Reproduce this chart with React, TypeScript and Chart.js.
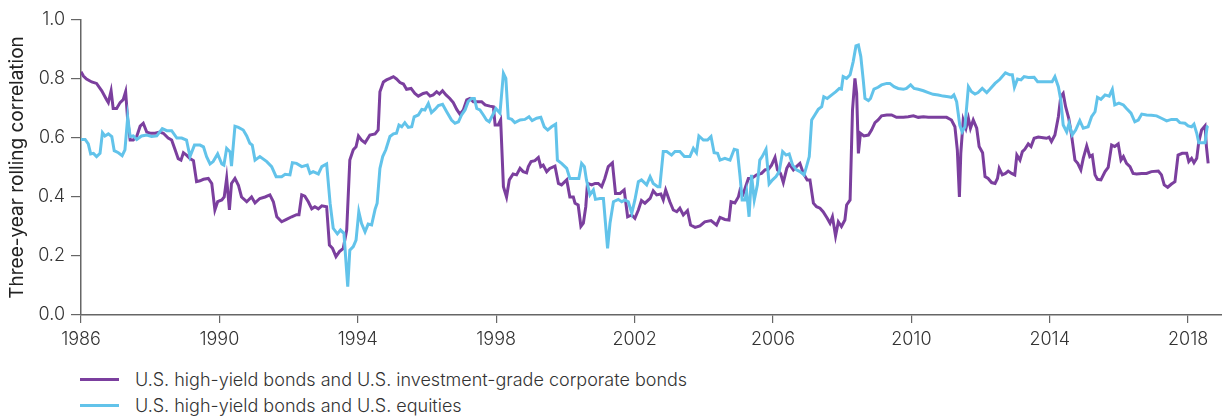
import React, { useEffect, useRef } from "react";
import { Chart, registerables } from "chart.js";

Chart.register(...registerables);

// U.S. high-yield bonds vs U.S. investment-grade corporate bonds (purple)
const igYears = [
  1986.0, 1986.07, 1986.16, 1986.31, 1986.45, 1986.6, 1986.74, 1986.79, 1986.87, 1986.93,
  1987.03, 1987.13, 1987.22, 1987.29, 1987.35, 1987.42, 1987.51, 1987.61, 1987.71, 1987.8,
  1987.9, 1988.0, 1988.14, 1988.28, 1988.38, 1988.52, 1988.62, 1988.72, 1988.81, 1988.89,
  1988.96, 1989.05, 1989.15, 1989.25, 1989.34, 1989.44, 1989.54, 1989.68, 1989.78, 1989.87,
  1989.95, 1990.07, 1990.14, 1990.21, 1990.29, 1990.35, 1990.45, 1990.55, 1990.64, 1990.79,
  1990.93, 1991.03, 1991.17, 1991.32, 1991.46, 1991.56, 1991.66, 1991.8, 1991.94, 1992.09,
  1992.23, 1992.3, 1992.38, 1992.47, 1992.57, 1992.67, 1992.76, 1992.86, 1992.96, 1993.1,
  1993.18, 1993.27, 1993.37, 1993.47, 1993.58, 1993.68, 1993.77, 1993.87, 1993.95, 1994.02,
  1994.11, 1994.21, 1994.35, 1994.5, 1994.59, 1994.64, 1994.74, 1994.83, 1994.93, 1995.03,
  1995.12, 1995.22, 1995.32, 1995.41, 1995.54, 1995.65, 1995.75, 1995.89, 1995.99, 1996.09,
  1996.18, 1996.28, 1996.36, 1996.45, 1996.55, 1996.66, 1996.76, 1996.86, 1996.95, 1997.05,
  1997.15, 1997.24, 1997.34, 1997.44, 1997.58, 1997.68, 1997.82, 1997.92, 1997.97, 1998.06,
  1998.13, 1998.21, 1998.3, 1998.38, 1998.49, 1998.59, 1998.69, 1998.78, 1998.88, 1998.93,
  1999.01, 1999.12, 1999.22, 1999.29, 1999.36, 1999.46, 1999.55, 1999.7, 1999.8, 1999.89,
  2000.04, 2000.13, 2000.23, 2000.28, 2000.37, 2000.45, 2000.52, 2000.59, 2000.64, 2000.76,
  2000.86, 2000.95, 2001.05, 2001.14, 2001.24, 2001.36, 2001.45, 2001.58, 2001.7, 2001.8,
  2001.92, 2002.01, 2002.11, 2002.2, 2002.3, 2002.45, 2002.54, 2002.64, 2002.76, 2002.83,
  2002.9, 2003.02, 2003.12, 2003.22, 2003.31, 2003.41, 2003.53, 2003.62, 2003.75, 2003.89,
  2004.03, 2004.21, 2004.37, 2004.47, 2004.61, 2004.73, 2004.79, 2004.9, 2005.0, 2005.05,
  2005.14, 2005.21, 2005.29, 2005.38, 2005.53, 2005.67, 2005.77, 2005.87, 2005.96, 2006.06,
  2006.13, 2006.22, 2006.3, 2006.4, 2006.47, 2006.59, 2006.68, 2006.78, 2006.88, 2006.99,
  2007.07, 2007.17, 2007.26, 2007.36, 2007.45, 2007.57, 2007.65, 2007.72, 2007.81, 2007.89,
  2007.98, 2008.08, 2008.13, 2008.23, 2008.3, 2008.37, 2008.42, 2008.47, 2008.53, 2008.63,
  2008.76, 2008.85, 2008.95, 2009.04, 2009.14, 2009.29, 2009.43, 2009.57, 2009.77, 2009.91,
  2010.06, 2010.2, 2010.35, 2010.49, 2010.63, 2010.83, 2011.02, 2011.16, 2011.26, 2011.33,
  2011.39, 2011.43, 2011.5, 2011.58, 2011.65, 2011.71, 2011.79, 2011.89, 2011.96, 2012.06,
  2012.13, 2012.22, 2012.32, 2012.42, 2012.49, 2012.54, 2012.63, 2012.72, 2012.8, 2012.9,
  2012.99, 2013.05, 2013.14, 2013.21, 2013.28, 2013.38, 2013.46, 2013.55, 2013.67, 2013.81,
  2013.91, 2013.98, 2014.05, 2014.15, 2014.25, 2014.32, 2014.39, 2014.46, 2014.55, 2014.63,
  2014.73, 2014.81, 2014.9, 2014.97, 2015.07, 2015.16, 2015.23, 2015.31, 2015.38, 2015.48,
  2015.6, 2015.69, 2015.79, 2015.88, 2015.98, 2016.06, 2016.13, 2016.22, 2016.32, 2016.41,
  2016.51, 2016.66, 2016.8, 2016.94, 2017.14, 2017.23, 2017.31, 2017.41, 2017.52, 2017.62,
  2017.71, 2017.83, 2017.96, 2018.02, 2018.1, 2018.17, 2018.25, 2018.31, 2018.39, 2018.49,
  2018.53, 2018.58,
];
const igValues = [
  0.825, 0.81, 0.8, 0.79, 0.785, 0.76, 0.73, 0.72, 0.76, 0.7,
  0.7, 0.72, 0.73, 0.757, 0.66, 0.593, 0.593, 0.605, 0.64, 0.65,
  0.62, 0.616, 0.616, 0.62, 0.616, 0.6, 0.593, 0.56, 0.53, 0.525,
  0.55, 0.542, 0.53, 0.523, 0.452, 0.455, 0.46, 0.463, 0.446, 0.356,
  0.384, 0.39, 0.4, 0.463, 0.356, 0.446, 0.463, 0.44, 0.4, 0.384,
  0.4, 0.38, 0.395, 0.4, 0.407, 0.384, 0.333, 0.316, 0.324, 0.333,
  0.34, 0.34, 0.407, 0.403, 0.384, 0.36, 0.367, 0.36, 0.37, 0.367,
  0.237, 0.226, 0.198, 0.215, 0.226, 0.288, 0.525, 0.56, 0.57, 0.607,
  0.593, 0.584, 0.61, 0.614, 0.627, 0.757, 0.79, 0.797, 0.802, 0.808,
  0.8, 0.788, 0.783, 0.765, 0.768, 0.751, 0.742, 0.751, 0.754, 0.742,
  0.746, 0.757, 0.749, 0.76, 0.746, 0.734, 0.72, 0.697, 0.681, 0.695,
  0.729, 0.734, 0.723, 0.723, 0.723, 0.712, 0.708, 0.706, 0.644, 0.644,
  0.661, 0.435, 0.4, 0.458, 0.478, 0.475, 0.497, 0.486, 0.482, 0.503,
  0.52, 0.523, 0.534, 0.503, 0.508, 0.486, 0.497, 0.505, 0.446, 0.441,
  0.458, 0.4, 0.4, 0.379, 0.373, 0.3, 0.311, 0.367, 0.446, 0.441,
  0.446, 0.446, 0.435, 0.463, 0.503, 0.516, 0.412, 0.412, 0.424, 0.333,
  0.339, 0.328, 0.356, 0.388, 0.379, 0.395, 0.421, 0.407, 0.41, 0.39,
  0.424, 0.384, 0.356, 0.35, 0.362, 0.339, 0.354, 0.305, 0.297, 0.302,
  0.316, 0.32, 0.305, 0.331, 0.324, 0.322, 0.384, 0.38, 0.4, 0.424,
  0.41, 0.435, 0.463, 0.463, 0.475, 0.48, 0.492, 0.494, 0.508, 0.534,
  0.492, 0.48, 0.449, 0.497, 0.512, 0.492, 0.503, 0.514, 0.48, 0.458,
  0.458, 0.379, 0.367, 0.362, 0.35, 0.328, 0.311, 0.333, 0.268, 0.316,
  0.3, 0.322, 0.373, 0.39, 0.695, 0.802, 0.751, 0.548, 0.616, 0.607,
  0.61, 0.627, 0.652, 0.661, 0.675, 0.678, 0.678, 0.67, 0.67, 0.672,
  0.675, 0.67, 0.672, 0.67, 0.67, 0.67, 0.67, 0.661, 0.638, 0.559,
  0.4, 0.548, 0.661, 0.633, 0.667, 0.633, 0.661, 0.633, 0.571, 0.55,
  0.469, 0.463, 0.449, 0.446, 0.463, 0.497, 0.475, 0.48, 0.488, 0.48,
  0.475, 0.542, 0.525, 0.554, 0.562, 0.58, 0.571, 0.599, 0.603, 0.601,
  0.599, 0.603, 0.588, 0.61, 0.672, 0.74, 0.751, 0.706, 0.667, 0.61,
  0.525, 0.514, 0.492, 0.531, 0.573, 0.537, 0.542, 0.475, 0.46, 0.458,
  0.486, 0.5, 0.576, 0.571, 0.58, 0.525, 0.537, 0.514, 0.503, 0.48,
  0.478, 0.48, 0.48, 0.486, 0.488, 0.475, 0.441, 0.433, 0.444, 0.452,
  0.542, 0.548, 0.548, 0.52, 0.531, 0.516, 0.531, 0.588, 0.627, 0.641,
  0.571, 0.514,
];

// U.S. high-yield bonds vs U.S. equities (blue)
const eqYears = [
  1986.0, 1986.12, 1986.21, 1986.28, 1986.36, 1986.45, 1986.55, 1986.62, 1986.69, 1986.79,
  1986.89, 1986.96, 1987.08, 1987.19, 1987.27, 1987.35, 1987.42, 1987.51, 1987.61, 1987.75,
  1987.9, 1988.04, 1988.19, 1988.35, 1988.48, 1988.62, 1988.77, 1988.91, 1989.05, 1989.15,
  1989.28, 1989.44, 1989.54, 1989.63, 1989.73, 1989.82, 1989.95, 1990.07, 1990.13, 1990.21,
  1990.31, 1990.35, 1990.45, 1990.55, 1990.69, 1990.79, 1990.88, 1990.95, 1991.03, 1991.17,
  1991.37, 1991.51, 1991.64, 1991.8, 1991.9, 1992.04, 1992.11, 1992.23, 1992.38, 1992.54,
  1992.62, 1992.71, 1992.86, 1992.96, 1993.1, 1993.2, 1993.29, 1993.41, 1993.5, 1993.6,
  1993.71, 1993.77, 1993.87, 1993.95, 1994.03, 1994.11, 1994.21, 1994.3, 1994.4, 1994.5,
  1994.56, 1994.64, 1994.72, 1994.81, 1994.93, 1995.03, 1995.12, 1995.19, 1995.27, 1995.36,
  1995.46, 1995.56, 1995.63, 1995.75, 1995.85, 1995.94, 1996.04, 1996.13, 1996.23, 1996.33,
  1996.45, 1996.57, 1996.71, 1996.81, 1996.91, 1997.0, 1997.1, 1997.19, 1997.29, 1997.37,
  1997.44, 1997.53, 1997.63, 1997.72, 1997.8, 1997.9, 1997.99, 1998.11, 1998.21, 1998.28,
  1998.35, 1998.45, 1998.54, 1998.69, 1998.83, 1998.95, 1999.04, 1999.17, 1999.29, 1999.39,
  1999.49, 1999.6, 1999.72, 1999.77, 1999.89, 2000.04, 2000.13, 2000.28, 2000.39, 2000.47,
  2000.55, 2000.61, 2000.71, 2000.81, 2000.87, 2001.0, 2001.1, 2001.16, 2001.22, 2001.29,
  2001.39, 2001.53, 2001.63, 2001.72, 2001.82, 2001.92, 2002.01, 2002.11, 2002.2, 2002.35,
  2002.45, 2002.54, 2002.67, 2002.73, 2002.83, 2002.93, 2003.07, 2003.17, 2003.31, 2003.44,
  2003.6, 2003.7, 2003.79, 2003.86, 2003.99, 2004.11, 2004.21, 2004.3, 2004.4, 2004.47,
  2004.61, 2004.76, 2004.88, 2004.97, 2005.05, 2005.11, 2005.19, 2005.24, 2005.31, 2005.38,
  2005.46, 2005.55, 2005.62, 2005.69, 2005.8, 2005.89, 2005.99, 2006.09, 2006.18, 2006.28,
  2006.38, 2006.47, 2006.57, 2006.68, 2006.78, 2006.9, 2006.97, 2007.05, 2007.12, 2007.21,
  2007.31, 2007.41, 2007.47, 2007.57, 2007.7, 2007.82, 2007.92, 2007.98, 2008.03, 2008.13,
  2008.23, 2008.32, 2008.4, 2008.47, 2008.54, 2008.61, 2008.66, 2008.76, 2008.82, 2008.92,
  2009.04, 2009.14, 2009.29, 2009.38, 2009.5, 2009.62, 2009.77, 2009.86, 2009.98, 2010.08,
  2010.2, 2010.35, 2010.49, 2010.63, 2010.78, 2010.92, 2011.07, 2011.16, 2011.23, 2011.31,
  2011.4, 2011.47, 2011.55, 2011.65, 2011.74, 2011.84, 2011.93, 2012.05, 2012.18, 2012.27,
  2012.42, 2012.56, 2012.72, 2012.85, 2012.92, 2012.98, 2013.07, 2013.17, 2013.26, 2013.38,
  2013.55, 2013.65, 2013.81, 2013.96, 2014.07, 2014.15, 2014.25, 2014.32, 2014.39, 2014.49,
  2014.56, 2014.65, 2014.75, 2014.87, 2014.97, 2015.11, 2015.21, 2015.31, 2015.38, 2015.48,
  2015.6, 2015.72, 2015.81, 2015.88, 2016.0, 2016.13, 2016.22, 2016.35, 2016.46, 2016.56,
  2016.66, 2016.8, 2016.94, 2017.09, 2017.23, 2017.38, 2017.52, 2017.67, 2017.76, 2017.91,
  2018.0, 2018.1, 2018.17, 2018.25, 2018.31, 2018.39, 2018.49, 2018.55, 2018.58,
];
const eqValues = [
  0.595, 0.595, 0.58, 0.546, 0.548, 0.537, 0.548, 0.618, 0.607, 0.614,
  0.605, 0.557, 0.55, 0.54, 0.56, 0.67, 0.605, 0.607, 0.595, 0.607,
  0.61, 0.605, 0.607, 0.632, 0.625, 0.625, 0.6, 0.6, 0.593, 0.537,
  0.576, 0.576, 0.57, 0.537, 0.512, 0.52, 0.546, 0.512, 0.508, 0.565,
  0.553, 0.505, 0.64, 0.636, 0.627, 0.607, 0.582, 0.576, 0.525, 0.537,
  0.52, 0.503, 0.469, 0.469, 0.477, 0.475, 0.516, 0.514, 0.503, 0.508,
  0.48, 0.486, 0.478, 0.503, 0.512, 0.379, 0.294, 0.275, 0.288, 0.277,
  0.096, 0.22, 0.232, 0.254, 0.35, 0.31, 0.282, 0.308, 0.305, 0.358,
  0.379, 0.497, 0.537, 0.56, 0.605, 0.614, 0.616, 0.644, 0.638, 0.652,
  0.636, 0.638, 0.672, 0.678, 0.697, 0.695, 0.717, 0.686, 0.697, 0.71,
  0.714, 0.689, 0.661, 0.65, 0.655, 0.678, 0.695, 0.723, 0.734, 0.734,
  0.7, 0.695, 0.678, 0.661, 0.655, 0.678, 0.7, 0.684, 0.819, 0.802,
  0.667, 0.663, 0.652, 0.661, 0.663, 0.672, 0.659, 0.667, 0.67, 0.638,
  0.627, 0.638, 0.647, 0.525, 0.514, 0.497, 0.463, 0.463, 0.463, 0.514,
  0.503, 0.458, 0.407, 0.424, 0.392, 0.395, 0.395, 0.311, 0.226, 0.311,
  0.384, 0.392, 0.384, 0.39, 0.384, 0.345, 0.39, 0.452, 0.458, 0.441,
  0.469, 0.446, 0.435, 0.435, 0.554, 0.554, 0.542, 0.554, 0.554, 0.537,
  0.537, 0.565, 0.55, 0.607, 0.593, 0.593, 0.605, 0.55, 0.548, 0.525,
  0.531, 0.525, 0.562, 0.559, 0.469, 0.39, 0.39, 0.418, 0.333, 0.475,
  0.39, 0.441, 0.525, 0.537, 0.562, 0.444, 0.458, 0.469, 0.486, 0.554,
  0.542, 0.546, 0.508, 0.492, 0.486, 0.475, 0.503, 0.537, 0.661, 0.678,
  0.697, 0.706, 0.74, 0.734, 0.746, 0.757, 0.768, 0.766, 0.808, 0.802,
  0.814, 0.859, 0.912, 0.915, 0.876, 0.797, 0.734, 0.727, 0.734, 0.766,
  0.772, 0.78, 0.785, 0.785, 0.774, 0.768, 0.765, 0.768, 0.78, 0.768,
  0.765, 0.76, 0.754, 0.748, 0.746, 0.742, 0.74, 0.738, 0.746, 0.723,
  0.644, 0.621, 0.638, 0.774, 0.757, 0.749, 0.754, 0.768, 0.754, 0.765,
  0.785, 0.799, 0.821, 0.814, 0.814, 0.772, 0.8, 0.797, 0.808, 0.805,
  0.806, 0.791, 0.791, 0.791, 0.791, 0.808, 0.774, 0.729, 0.644, 0.621,
  0.65, 0.61, 0.627, 0.659, 0.633, 0.638, 0.672, 0.689, 0.738, 0.731,
  0.746, 0.742, 0.765, 0.712, 0.718, 0.712, 0.7, 0.684, 0.655, 0.661,
  0.681, 0.678, 0.677, 0.675, 0.667, 0.658, 0.663, 0.663, 0.652, 0.65,
  0.641, 0.638, 0.647, 0.616, 0.584, 0.584, 0.584, 0.638, 0.641,
];

const xTickYears = [1986, 1990, 1994, 1998, 2002, 2006, 2010, 2014, 2018];
const yTickValues = [0, 0.2, 0.4, 0.6, 0.8, 1.0];
const seriesLabels = [
  "U.S. high-yield bonds and U.S. investment-grade corporate bonds",
  "U.S. high-yield bonds and U.S. equities",
];
const seriesColors = ["#7B3F9E", "#62C3EA"];
const yAxisTitle = "Three-year rolling correlation";

const FONT = "Inter, 'Liberation Sans', Arial, sans-serif";

export default function App() {
  const canvasRef = useRef<HTMLCanvasElement | null>(null);

  useEffect(() => {
    const canvas = canvasRef.current;
    if (!canvas) return;
    const igData = igYears.map((x, i) => ({ x, y: igValues[i] }));
    const eqData = eqYears.map((x, i) => ({ x, y: eqValues[i] }));
    const chart = new Chart(canvas, {
      type: "line",
      data: {
        datasets: [
          {
            label: seriesLabels[1],
            data: eqData,
            borderColor: seriesColors[1],
            borderWidth: 3,
            pointRadius: 0,
            tension: 0,
            fill: false,
          },
          {
            label: seriesLabels[0],
            data: igData,
            borderColor: seriesColors[0],
            borderWidth: 3,
            pointRadius: 0,
            tension: 0,
            fill: false,
          },
        ],
      },
      options: {
        animation: false,
        responsive: true,
        maintainAspectRatio: false,
        layout: { padding: { top: 20, right: 0, left: 0, bottom: 0 } },
        plugins: {
          legend: { display: false },
          tooltip: { enabled: false },
        },
        scales: {
          x: {
            type: "linear",
            min: 1986,
            max: 2018.98,
            afterBuildTicks: (s: any) => {
              s.ticks = xTickYears.map((v) => ({ value: v }));
            },
            afterFit: (s: any) => {
              s.height = 40;
            },
            ticks: {
              autoSkip: false,
              maxRotation: 0,
              padding: 6,
              color: "#333",
              font: { family: FONT, size: 18, weight: "300" },
              callback: (v: any) => String(v),
            },
            grid: {
              display: true,
              drawOnChartArea: false,
              drawTicks: true,
              tickLength: 8,
              color: "#666",
              lineWidth: 1.2,
            },
            border: { display: true, color: "#666", width: 1.5 },
          },
          y: {
            min: 0,
            max: 1,
            afterBuildTicks: (s: any) => {
              s.ticks = yTickValues.map((v) => ({ value: v }));
            },
            afterFit: (s: any) => {
              s.width = 81;
            },
            ticks: {
              padding: 6,
              color: "#333",
              font: { family: FONT, size: 18, weight: "300" },
              callback: (v: any) => Number(v).toFixed(1),
            },
            grid: {
              display: true,
              drawOnChartArea: false,
              drawTicks: true,
              tickLength: 10,
              color: "#666",
              lineWidth: 1.2,
            },
            border: { display: true, color: "#666", width: 1.5 },
            title: {
              display: true,
              text: yAxisTitle,
              color: "#222",
              font: { family: FONT, size: 19, weight: "400" },
              padding: { top: 6, bottom: 0 },
            },
          },
        },
      },
    });
    return () => chart.destroy();
  }, []);

  return (
    <div style={{ position: "fixed", left: 0, top: 0, width: 1222, height: 417, background: "#fff" }}>
      <div style={{ position: "absolute", left: 0, top: 0, width: 1222, height: 355 }}>
        <canvas ref={canvasRef} />
      </div>
      {seriesLabels.map((label, i) => (
        <div
          key={label}
          style={{
            position: "absolute",
            left: 80,
            top: 368 + i * 26.5,
            height: 22,
            display: "flex",
            alignItems: "center",
            fontFamily: FONT,
            fontWeight: 300,
            fontSize: 18,
            color: "#333",
            whiteSpace: "nowrap",
          }}
        >
          <span
            style={{
              display: "inline-block",
              width: 39,
              height: 3,
              background: seriesColors[i],
              marginRight: 16,
            }}
          />
          {label}
        </div>
      ))}
    </div>
  );
}
